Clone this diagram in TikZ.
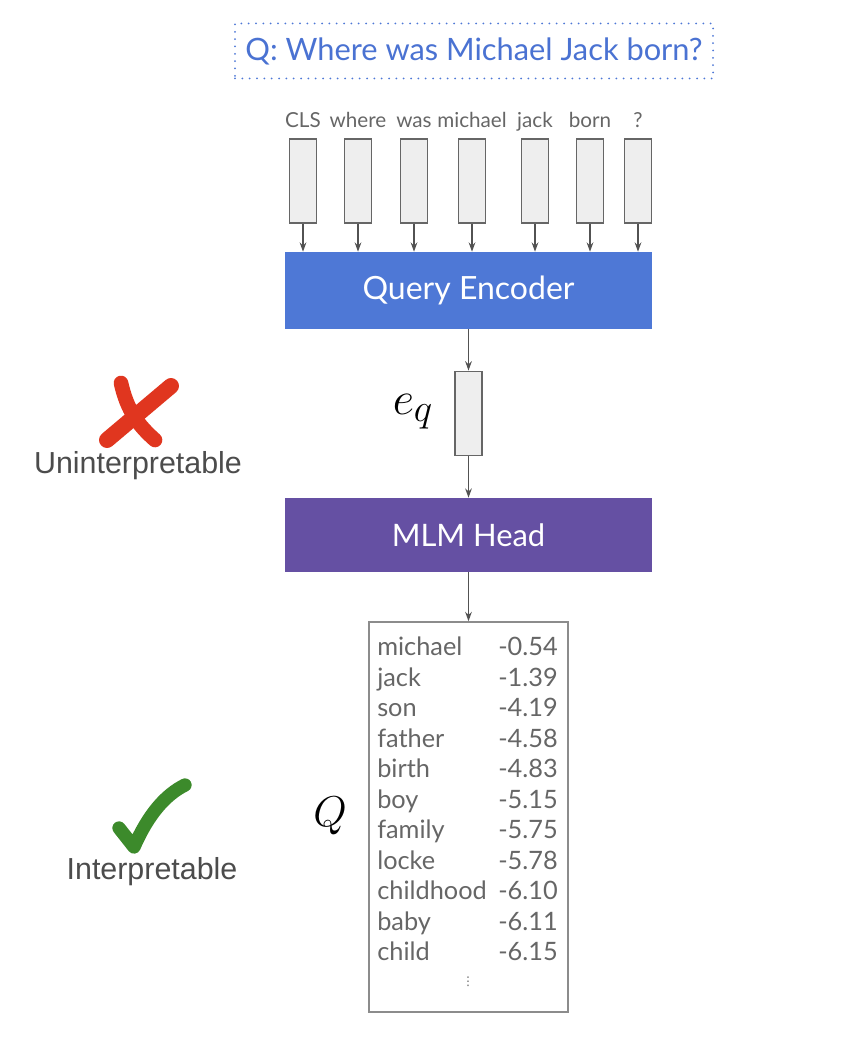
\documentclass[tikz,border=0pt]{standalone}
\usepackage{fontspec}
\setmainfont{Lato}
\newfontfamily\labfont{Liberation Sans}
\newfontfamily\symfont{DejaVu Sans}
\usetikzlibrary{arrows.meta}
\definecolor{qblue}{HTML}{4E78D6}
\definecolor{qtext}{HTML}{4A72D2}
\definecolor{mlmpurple}{HTML}{6550A3}
\definecolor{txtgray}{HTML}{666666}
\definecolor{linegray}{HTML}{666666}
\definecolor{boxgray}{HTML}{EEEEEE}
\definecolor{crossred}{HTML}{E0361F}
\definecolor{tickgreen}{HTML}{3C8A2B}
\tikzset{
  vec/.style={draw=linegray, fill=boxgray, line width=1.4pt, minimum width=20.25pt, minimum height=63pt, inner sep=0pt},
  block/.style={minimum width=275.25pt, inner sep=0pt, text=white},
  arr/.style={-{Stealth[length=7pt,width=5pt]}, draw=black!68, line width=1.1pt},
  tok/.style={text=txtgray, font=\fontsize{15.5}{17}\selectfont, inner sep=0pt, anchor=base},
  row/.style={text=txtgray, font=\fontsize{19}{21}\selectfont, anchor=base west, inner sep=0pt},
  verdict/.style={text=black!70, font=\labfont\fontsize{22.8}{25}\selectfont, inner sep=0pt}
}
\begin{document}
\begin{tikzpicture}[x=0.75pt,y=-0.75pt]
  \useasboundingbox (0,0) rectangle (840,1044);
  \node[draw=qblue, line width=1.5pt, line cap=round, dash pattern=on 0pt off 5.5pt,
        minimum width=358.5pt, minimum height=41.25pt, text=qtext,
        font=\fontsize{23.1}{25}\selectfont] (ques) at (474,51) {Q: Where was Michael Jack born?};
  \foreach \x/\lab [count=\i] in {303/CLS, 358/where, 414/was, 472/michael, 535/jack, 590/born, 638/?} {
    \node[vec] (t\i) at (\x,181) {};
    \node[tok] (l\i) at (\x,128) {\lab};
  }
  \node[block, fill=qblue, minimum height=57.75pt, font=\fontsize{24}{26}\selectfont] (enc) at (468.5,290.5) {Query Encoder};
  \foreach \i in {1,...,7}
    \draw[arr] (t\i.south) -- (t\i.south |- enc.north);
  \node[vec] (eq) at (468.5,413.5) {};
  \node[font=\Huge, scale=1.41, inner sep=0pt] (eqlab) at (413,412) {$e_q$};
  \node[block, fill=mlmpurple, minimum height=55.5pt, font=\fontsize{23.2}{26}\selectfont] (mlm) at (468.5,535) {MLM Head};
  \draw[arr] (enc) -- (eq);
  \draw[arr] (eq) -- (mlm);
  \node[draw=black!45, line width=1.2pt, minimum width=149.25pt, minimum height=292.5pt] (qbox) at (468.5,817) {};
  \draw[arr] (mlm) -- (qbox);
  \foreach \w/\s [count=\i] in {michael/-0.54, jack/-1.39, son/-4.19, father/-4.58, birth/-4.83, boy/-5.15,
                                family/-5.75, locke/-5.78, childhood/-6.10, baby/-6.11, child/-6.15} {
    \node[row] (w\i) at (377,{655.5+30.5*(\i-1)}) {\w};
    \node[row] (s\i) at (498,{655.5+30.5*(\i-1)}) {\s};
  }
  \node[text=txtgray, font=\symfont\fontsize{9}{10}\selectfont, inner sep=0pt] (more) at (468,982) {⋮};
  \node[font=\Huge, scale=1.3, inner sep=0pt] (qlab) at (330,816) {$Q$};
  \draw[crossred, line width=11pt, line cap=round] (121,383) .. controls (127,410) and (138,425) .. (155,440);
  \draw[crossred, line width=12pt, line cap=round] (171,386) -- (107,440);
  \node[verdict] (unint) at (138,466) {Uninterpretable};
  \draw[tickgreen, line width=10pt, line cap=round, line join=round]
    (119,828) -- (134,847) .. controls (148,815) and (165,795) .. (185,785);
  \node[verdict] (interp) at (152,872) {Interpretable};
\end{tikzpicture}
\end{document}
